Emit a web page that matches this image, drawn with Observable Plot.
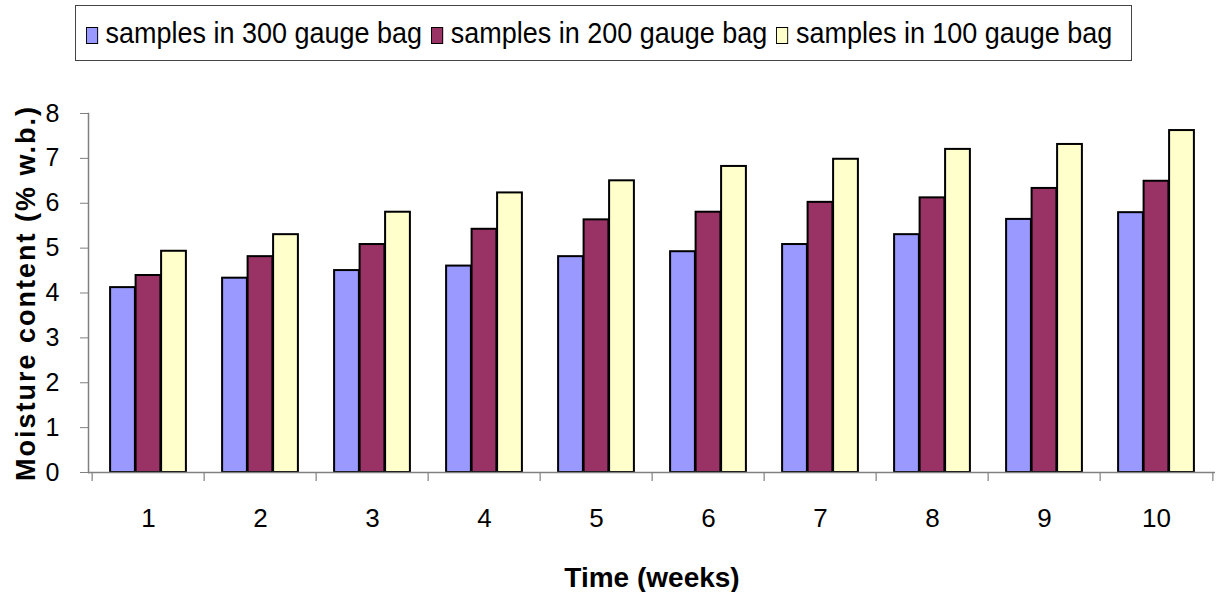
<!DOCTYPE html>
<html>
<head>
<meta charset="utf-8">
<script src="https://cdn.jsdelivr.net/npm/d3@7"></script>
<script src="https://cdn.jsdelivr.net/npm/@observablehq/plot@0.6"></script>
<style>
  html, body { margin: 0; padding: 0; background: #fff; }
  #wrap { position: relative; width: 1221px; height: 592px; overflow: hidden; }
  #legend {
    position: absolute; left: 75px; top: 5px; width: 1057px; height: 56px;
    border: 1.5px solid #444; box-sizing: border-box;
    font-family: "Liberation Sans", Arial, sans-serif;
    font-size: 29px; color: #000; white-space: nowrap;
  }
  #legendInner {
    position: absolute; left: 10px; top: 0; height: 100%;
    display: flex; align-items: center;
    transform: scaleX(0.93); transform-origin: 0 50%;
  }
  .item { display: flex; align-items: center; margin-right: 10px; }
  .sw { width: 11px; height: 15px; border: 1.5px solid #000; margin-right: 8px; margin-top: 4px; }
  #chart { position: absolute; left: 0; top: 66px; }
  #chart svg { overflow: visible; }
  g[aria-label="y-axis tick label"] text { font-family: "Liberation Sans", Arial, sans-serif; font-size: 25px; }
  g[aria-label="x-axis tick label"] text { font-family: "Liberation Sans", Arial, sans-serif; font-size: 26px; }
  g[aria-label="y-axis label"] text { font-family: "Liberation Sans", Arial, sans-serif; font-size: 27px; font-weight: bold; letter-spacing: 2px; }
  g[aria-label="x-axis label"] text { font-family: "Liberation Sans", Arial, sans-serif; font-size: 28px; font-weight: bold; }
</style>
</head>
<body>
<div id="wrap">
  <div id="legend"><div id="legendInner"></div></div>
  <div id="chart"></div>
</div>
<script>
const weeks = ["1", "2", "3", "4", "5", "6", "7", "8", "9", "10"];
const seriesNames = ["samples in 300 gauge bag", "samples in 200 gauge bag", "samples in 100 gauge bag"];
const gauge300 = [4.12, 4.33, 4.50, 4.60, 4.81, 4.92, 5.08, 5.30, 5.64, 5.79];
const gauge200 = [4.39, 4.81, 5.08, 5.42, 5.63, 5.80, 6.02, 6.12, 6.33, 6.49];
const gauge100 = [4.93, 5.30, 5.80, 6.23, 6.50, 6.82, 6.98, 7.20, 7.31, 7.62];
const colors = ["#9999FF", "#993366", "#FFFFCC"];
const yTicks = [0, 1, 2, 3, 4, 5, 6, 7, 8];

const seriesValues = [gauge300, gauge200, gauge100];
const rows = [];
seriesNames.forEach((s, i) => weeks.forEach((w, j) => rows.push({week: w, series: s, value: seriesValues[i][j]})));

const W = 1221, H = 526;
const mL = 88, mR = 6, mT = 47, mB = 120;
const band = (W - mL - mR) / weeks.length;
const barW = 25.5;
const inset = (band - barW) / 2;

const barMarks = seriesNames.map((s, i) =>
  Plot.barY(rows.filter(d => d.series === s), {
    x: "week", y: "value", fill: colors[i], stroke: "#000", strokeWidth: 2,
    insetLeft: inset, insetRight: inset, dx: (i - 1) * barW
  })
);

const chart = Plot.plot({
  width: W, height: H,
  marginLeft: mL, marginRight: mR, marginTop: mT, marginBottom: mB,
  style: {background: "#fff", color: "#000", overflow: "visible"},
  x: {domain: weeks, padding: 0},
  y: {domain: [0, 8]},
  marks: [
    Plot.frame({anchor: "left", stroke: "#808080", strokeWidth: 1.5}),
    ...barMarks,
    Plot.ruleY([0], {stroke: "#808080", strokeWidth: 1.5}),
    Plot.ruleX(weeks, {x: d => d, y1: 0, y2: -0.2, dx: -band / 2, stroke: "#808080", strokeWidth: 1.2}),
    Plot.ruleX([weeks[weeks.length - 1]], {x: d => d, y1: 0, y2: -0.2, dx: band / 2, stroke: "#808080", strokeWidth: 1.2}),
    Plot.axisY({ticks: yTicks, tickSize: 8, tickPadding: 21, stroke: "#808080", label: "Moisture content (% w.b.)", labelAnchor: "center", labelArrow: "none", labelOffset: 73}),
    Plot.axisX({tickSize: 0, tickPadding: 36, label: "Time (weeks)", labelAnchor: "center", labelArrow: "none", labelOffset: 114})
  ]
});
document.getElementById("chart").appendChild(chart);

const legend = document.getElementById("legendInner");
seriesNames.forEach((s, i) => {
  const it = document.createElement("div");
  it.className = "item";
  const sw = document.createElement("div");
  sw.className = "sw";
  sw.style.background = colors[i];
  const t = document.createElement("span");
  t.textContent = s;
  it.appendChild(sw); it.appendChild(t);
  legend.appendChild(it);
});
</script>
</body>
</html>
